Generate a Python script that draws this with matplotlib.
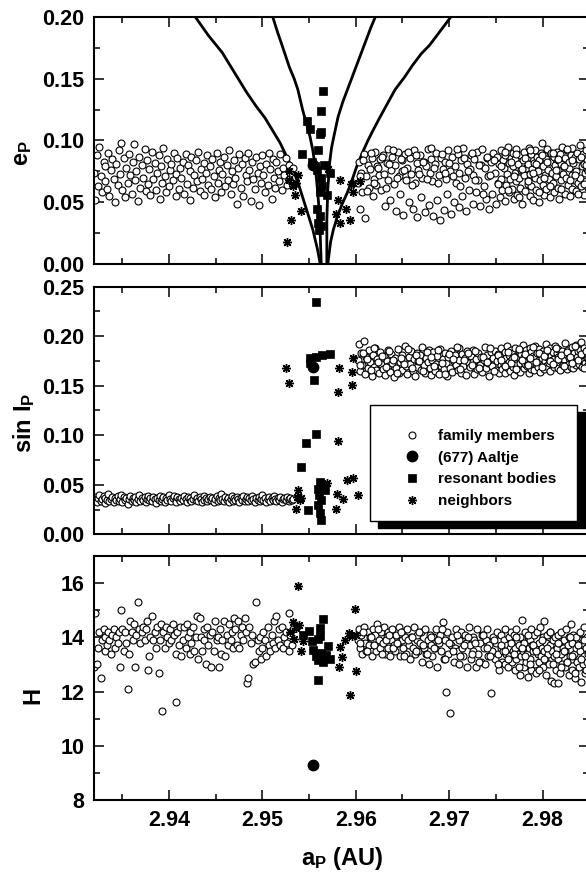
import numpy as np
import matplotlib
matplotlib.use("Agg")
import matplotlib.pyplot as plt
from matplotlib.ticker import MultipleLocator, FormatStrFormatter
from matplotlib.patches import Rectangle

plt.rcParams["font.family"] = ["Liberation Sans", "DejaVu Sans"]
plt.rcParams["font.weight"] = "bold"
plt.rcParams["axes.labelweight"] = "bold"
plt.rcParams["mathtext.fontset"] = "custom"
plt.rcParams["mathtext.rm"] = "Liberation Sans:bold"
plt.rcParams["mathtext.it"] = "Liberation Sans:bold"
plt.rcParams["mathtext.bf"] = "Liberation Sans:bold"
plt.rcParams["mathtext.default"] = "rm"

# ---- family members (same objects in all three panels) ----
fam_a_left = [
    2.9320, 2.9321, 2.9323, 2.9324, 2.9325, 2.9327, 2.9328, 2.9330, 2.9331, 2.9332,
    2.9334, 2.9335, 2.9336, 2.9338, 2.9339, 2.9341, 2.9342, 2.9343, 2.9345, 2.9346,
    2.9347, 2.9349, 2.9350, 2.9352, 2.9353, 2.9354, 2.9356, 2.9357, 2.9358, 2.9360,
    2.9361, 2.9363, 2.9364, 2.9365, 2.9367, 2.9368, 2.9369, 2.9371, 2.9372, 2.9374,
    2.9375, 2.9376, 2.9378, 2.9379, 2.9380, 2.9382, 2.9383, 2.9385, 2.9386, 2.9387,
    2.9389, 2.9390, 2.9391, 2.9393, 2.9394, 2.9396, 2.9397, 2.9398, 2.9400, 2.9401,
    2.9402, 2.9404, 2.9405, 2.9407, 2.9408, 2.9409, 2.9411, 2.9412, 2.9413, 2.9415,
    2.9416, 2.9418, 2.9419, 2.9420, 2.9422, 2.9423, 2.9424, 2.9426, 2.9427, 2.9429,
    2.9430, 2.9431, 2.9433, 2.9434, 2.9435, 2.9437, 2.9438, 2.9440, 2.9441, 2.9442,
    2.9444, 2.9445, 2.9446, 2.9448, 2.9449, 2.9451, 2.9452, 2.9453, 2.9455, 2.9456,
    2.9457, 2.9459, 2.9460, 2.9462, 2.9463, 2.9464, 2.9466, 2.9467, 2.9468, 2.9470,
    2.9471, 2.9473, 2.9474, 2.9475, 2.9477, 2.9478, 2.9479, 2.9481, 2.9482, 2.9484,
    2.9485, 2.9486, 2.9488, 2.9489, 2.9490, 2.9492, 2.9493, 2.9495, 2.9496, 2.9497,
    2.9499, 2.9500, 2.9501, 2.9503, 2.9504, 2.9506, 2.9507, 2.9508, 2.9510, 2.9511,
    2.9512, 2.9514, 2.9515, 2.9517, 2.9518, 2.9519, 2.9521, 2.9522, 2.9523, 2.9525,
    2.9526, 2.9528, 2.9529, 2.9530, 2.9532, 2.9533,
]
fam_e_left = [
    0.074, 0.052, 0.088, 0.063, 0.095, 0.071, 0.058, 0.083, 0.067, 0.079,
    0.061, 0.090, 0.055, 0.076, 0.085, 0.069, 0.050, 0.081, 0.064, 0.092,
    0.073, 0.098, 0.060, 0.086, 0.054, 0.078, 0.066, 0.089, 0.072, 0.057,
    0.083, 0.097, 0.068, 0.075, 0.051, 0.087, 0.062, 0.080, 0.070, 0.093,
    0.059, 0.084, 0.065, 0.077, 0.056, 0.091, 0.069, 0.082, 0.060, 0.074,
    0.088, 0.053, 0.079, 0.066, 0.094, 0.071, 0.058, 0.085, 0.063, 0.076,
    0.081, 0.068, 0.090, 0.055, 0.073, 0.086, 0.061, 0.078, 0.070, 0.083,
    0.057, 0.089, 0.065, 0.080, 0.052, 0.075, 0.087, 0.062, 0.072, 0.084,
    0.067, 0.091, 0.059, 0.077, 0.069, 0.056, 0.082, 0.074, 0.088, 0.064,
    0.079, 0.061, 0.085, 0.071, 0.054, 0.090, 0.066, 0.076, 0.083, 0.058,
    0.073, 0.087, 0.063, 0.080, 0.068, 0.092, 0.057, 0.075, 0.065, 0.084,
    0.070, 0.049, 0.078, 0.089, 0.062, 0.081, 0.055, 0.086, 0.072, 0.067,
    0.090, 0.076, 0.051, 0.083, 0.069, 0.061, 0.087, 0.074, 0.048, 0.079,
    0.066, 0.088, 0.072, 0.058, 0.081, 0.064, 0.090, 0.077, 0.053, 0.085,
    0.070, 0.062, 0.083, 0.075, 0.067, 0.089, 0.060, 0.078, 0.072, 0.086,
    0.064, 0.080, 0.069, 0.074, 0.066, 0.078,
]
fam_i_left = [
    0.035, 0.038, 0.033, 0.037, 0.040, 0.034, 0.036, 0.039, 0.032, 0.037,
    0.035, 0.041, 0.034, 0.036, 0.038, 0.033, 0.037, 0.035, 0.039, 0.034,
    0.036, 0.040, 0.033, 0.038, 0.035, 0.037, 0.031, 0.036, 0.039, 0.034,
    0.037, 0.035, 0.038, 0.033, 0.036, 0.040, 0.034, 0.037, 0.035, 0.038,
    0.033, 0.036, 0.039, 0.035, 0.037, 0.034, 0.038, 0.036, 0.032, 0.037,
    0.035, 0.039, 0.034, 0.036, 0.038, 0.033, 0.037, 0.035, 0.040, 0.036,
    0.034, 0.037, 0.039, 0.035, 0.033, 0.038, 0.036, 0.034, 0.037, 0.035,
    0.039, 0.036, 0.033, 0.038, 0.035, 0.037, 0.034, 0.036, 0.040, 0.035,
    0.037, 0.034, 0.038, 0.036, 0.033, 0.039, 0.035, 0.037, 0.034, 0.036,
    0.038, 0.035, 0.037, 0.033, 0.036, 0.039, 0.034, 0.037, 0.035, 0.041,
    0.036, 0.034, 0.038, 0.035, 0.037, 0.033, 0.036, 0.039, 0.034, 0.037,
    0.035, 0.038, 0.036, 0.033, 0.037, 0.035, 0.039, 0.034, 0.036, 0.038,
    0.034, 0.037, 0.035, 0.039, 0.036, 0.033, 0.037, 0.035, 0.038, 0.034,
    0.036, 0.040, 0.035, 0.037, 0.033, 0.036, 0.038, 0.034, 0.037, 0.035,
    0.039, 0.036, 0.034, 0.037, 0.035, 0.038, 0.033, 0.036, 0.037, 0.035,
    0.038, 0.034, 0.036, 0.037, 0.035, 0.036,
]
fam_h_left = [
    12.9, 14.9, 13.0, 13.6, 14.2, 12.5, 13.9, 14.3, 13.5, 14.0,
    13.7, 14.2, 13.9, 13.4, 14.1, 14.3, 13.6, 14.0, 13.8, 14.2,
    12.9, 15.0, 14.3, 13.5, 14.2, 13.8, 12.1, 13.4, 14.6, 14.2,
    13.9, 14.5, 12.9, 14.1, 15.3, 14.3, 13.8, 14.2, 14.4, 13.9,
    14.3, 14.6, 12.8, 13.3, 14.0, 14.8, 13.9, 14.2, 13.6, 14.4,
    12.7, 13.9, 14.5, 11.3, 14.2, 13.6, 14.4, 14.0, 13.8, 14.3,
    13.9, 14.5, 14.1, 11.6, 13.4, 14.2, 13.7, 14.4, 13.3, 13.9,
    14.4, 13.6, 14.5, 14.0, 13.4, 14.2, 13.8, 14.4, 13.5, 14.0,
    14.8, 13.2, 14.7, 14.0, 13.5, 13.9, 14.3, 13.0, 14.4, 13.7,
    14.1, 12.9, 14.2, 13.5, 14.6, 13.9, 14.0, 12.9, 14.3, 13.4,
    13.9, 14.6, 13.3, 14.1, 13.7, 14.5, 13.9, 14.2, 13.6, 14.7,
    14.3, 13.7, 14.6, 13.6, 14.1, 14.4, 13.9, 14.7, 14.2, 12.3,
    12.5, 14.4, 13.8, 14.1, 13.0, 13.1, 15.3, 13.9, 13.5, 14.0,
    13.2, 13.6, 14.2, 13.9, 13.3, 14.4, 13.7, 13.5, 14.1, 13.8,
    14.6, 13.6, 14.8, 13.9, 14.3, 13.7, 14.4, 13.6, 14.0, 14.2,
    13.8, 14.9, 13.5, 14.1, 13.7, 14.3,
]

fam_a_right = [
    2.9602, 2.9603, 2.9605, 2.9606, 2.9607, 2.9609, 2.9610, 2.9611, 2.9613, 2.9614,
    2.9615, 2.9617, 2.9618, 2.9619, 2.9621, 2.9622, 2.9623, 2.9625, 2.9626, 2.9627,
    2.9629, 2.9630, 2.9631, 2.9633, 2.9634, 2.9635, 2.9637, 2.9638, 2.9639, 2.9641,
    2.9642, 2.9643, 2.9645, 2.9646, 2.9647, 2.9649, 2.9650, 2.9651, 2.9653, 2.9654,
    2.9655, 2.9657, 2.9658, 2.9659, 2.9661, 2.9662, 2.9663, 2.9665, 2.9666, 2.9667,
    2.9669, 2.9670, 2.9671, 2.9673, 2.9674, 2.9675, 2.9677, 2.9678, 2.9679, 2.9681,
    2.9682, 2.9683, 2.9685, 2.9686, 2.9687, 2.9689, 2.9690, 2.9691, 2.9693, 2.9694,
    2.9695, 2.9697, 2.9698, 2.9699, 2.9701, 2.9702, 2.9703, 2.9705, 2.9706, 2.9707,
    2.9709, 2.9710, 2.9711, 2.9713, 2.9714, 2.9715, 2.9717, 2.9718, 2.9719, 2.9721,
    2.9722, 2.9723, 2.9725, 2.9726, 2.9727, 2.9729, 2.9730, 2.9731, 2.9733, 2.9734,
    2.9735, 2.9737, 2.9738, 2.9739, 2.9741, 2.9742, 2.9743, 2.9745, 2.9746, 2.9747,
    2.9749, 2.9750, 2.9751, 2.9752, 2.9753, 2.9754, 2.9755, 2.9756, 2.9757, 2.9758,
    2.9759, 2.9760, 2.9760, 2.9761, 2.9762, 2.9763, 2.9764, 2.9764, 2.9765, 2.9766,
    2.9767, 2.9768, 2.9768, 2.9769, 2.9770, 2.9771, 2.9772, 2.9772, 2.9773, 2.9774,
    2.9775, 2.9776, 2.9776, 2.9777, 2.9778, 2.9779, 2.9780, 2.9780, 2.9781, 2.9782,
    2.9783, 2.9784, 2.9784, 2.9785, 2.9786, 2.9787, 2.9788, 2.9788, 2.9789, 2.9790,
    2.9791, 2.9792, 2.9792, 2.9793, 2.9794, 2.9795, 2.9796, 2.9796, 2.9797, 2.9798,
    2.9799, 2.9800, 2.9800, 2.9801, 2.9802, 2.9803, 2.9804, 2.9804, 2.9805, 2.9806,
    2.9807, 2.9808, 2.9808, 2.9809, 2.9810, 2.9811, 2.9812, 2.9812, 2.9813, 2.9814,
    2.9815, 2.9816, 2.9816, 2.9817, 2.9818, 2.9819, 2.9820, 2.9820, 2.9821, 2.9822,
    2.9823, 2.9824, 2.9824, 2.9825, 2.9826, 2.9827, 2.9828, 2.9828, 2.9829, 2.9830,
    2.9831, 2.9832, 2.9832, 2.9833, 2.9834, 2.9835, 2.9836, 2.9836, 2.9837, 2.9838,
    2.9839, 2.9840, 2.9840, 2.9841, 2.9842, 2.9843, 2.9844, 2.9844, 2.9845, 2.9846,
    2.9847, 2.9848, 2.9848, 2.9849, 2.9850, 2.9851,
    2.9604, 2.9608, 2.9612, 2.9616, 2.9620, 2.9624, 2.9628, 2.9632, 2.9636, 2.9640,
    2.9644, 2.9648, 2.9652, 2.9656, 2.9660, 2.9664, 2.9668, 2.9672, 2.9676, 2.9680,
    2.9684, 2.9688, 2.9692, 2.9696, 2.9700, 2.9704, 2.9708, 2.9712, 2.9716, 2.9720,
    2.9724, 2.9728, 2.9732, 2.9736, 2.9740, 2.9744, 2.9748, 2.9752, 2.9756, 2.9760,
    2.9763, 2.9766, 2.9769, 2.9772, 2.9775, 2.9778, 2.9781, 2.9784, 2.9787, 2.9790,
    2.9793, 2.9796, 2.9799, 2.9802, 2.9805, 2.9808, 2.9811, 2.9814, 2.9817, 2.9820,
    2.9823, 2.9826, 2.9829, 2.9832, 2.9835, 2.9838, 2.9841, 2.9844, 2.9847, 2.9849,
]
fam_e_right = [
    0.066, 0.083, 0.045, 0.074, 0.058, 0.089, 0.037, 0.071, 0.080, 0.062,
    0.077, 0.086, 0.055, 0.069, 0.091, 0.064, 0.079, 0.072, 0.085, 0.060,
    0.088, 0.073, 0.047, 0.082, 0.068, 0.093, 0.052, 0.076, 0.087, 0.065,
    0.080, 0.043, 0.091, 0.071, 0.057, 0.084, 0.075, 0.040, 0.089, 0.068,
    0.078, 0.050, 0.086, 0.073, 0.045, 0.092, 0.066, 0.082, 0.038, 0.076,
    0.088, 0.054, 0.070, 0.083, 0.042, 0.079, 0.093, 0.048, 0.074, 0.085,
    0.067, 0.039, 0.081, 0.090, 0.052, 0.072, 0.036, 0.086, 0.077, 0.044,
    0.083, 0.069, 0.057, 0.092, 0.075, 0.041, 0.087, 0.050, 0.079, 0.066,
    0.089, 0.046, 0.074, 0.084, 0.055, 0.094, 0.070, 0.043, 0.081, 0.060,
    0.077, 0.088, 0.049, 0.072, 0.085, 0.058, 0.091, 0.068, 0.047, 0.080,
    0.093, 0.063, 0.078, 0.053, 0.086, 0.071, 0.045, 0.083, 0.057, 0.090,
    0.074, 0.049, 0.087, 0.066, 0.081, 0.054, 0.092, 0.069, 0.060, 0.084,
    0.078, 0.051, 0.088, 0.064, 0.073, 0.095, 0.058, 0.082, 0.069, 0.086,
    0.061, 0.079, 0.090, 0.053, 0.074, 0.085, 0.067, 0.093, 0.056, 0.081,
    0.070, 0.088, 0.062, 0.076, 0.049, 0.084, 0.072, 0.091, 0.059, 0.078,
    0.086, 0.065, 0.081, 0.094, 0.055, 0.073, 0.089, 0.063, 0.077, 0.052,
    0.082, 0.070, 0.092, 0.060, 0.087, 0.075, 0.050, 0.084, 0.068, 0.090,
    0.098, 0.064, 0.079, 0.056, 0.088, 0.072, 0.085, 0.061, 0.093, 0.076,
    0.069, 0.083, 0.054, 0.090, 0.074, 0.066, 0.087, 0.058, 0.080, 0.071,
    0.091, 0.062, 0.084, 0.076, 0.053, 0.089, 0.068, 0.081, 0.095, 0.073,
    0.079, 0.057, 0.086, 0.070, 0.092, 0.064, 0.078, 0.083, 0.055, 0.088,
    0.072, 0.094, 0.061, 0.082, 0.068, 0.087, 0.075, 0.059, 0.090, 0.066,
    0.085, 0.070, 0.096, 0.063, 0.079, 0.089, 0.056, 0.081, 0.074, 0.092,
    0.067, 0.084, 0.077, 0.062, 0.088, 0.073,
    0.071, 0.084, 0.059, 0.090, 0.066, 0.078, 0.087, 0.062, 0.081, 0.092,
    0.070, 0.085, 0.076, 0.091, 0.064, 0.088, 0.073, 0.083, 0.069, 0.094,
    0.078, 0.066, 0.089, 0.074, 0.082, 0.071, 0.093, 0.063, 0.086, 0.075,
    0.090, 0.068, 0.080, 0.057, 0.087, 0.072, 0.084, 0.065, 0.079, 0.091,
    0.060, 0.083, 0.071, 0.089, 0.054, 0.077, 0.086, 0.067, 0.092, 0.074,
    0.081, 0.058, 0.088, 0.070, 0.083, 0.063, 0.090, 0.076, 0.085, 0.061,
    0.079, 0.093, 0.068, 0.084, 0.072, 0.057, 0.087, 0.065, 0.080, 0.075,
]
fam_i_right = [
    0.176, 0.192, 0.165, 0.183, 0.171, 0.195, 0.162, 0.179, 0.168, 0.186,
    0.174, 0.160, 0.181, 0.169, 0.188, 0.166, 0.177, 0.163, 0.184, 0.172,
    0.167, 0.180, 0.161, 0.175, 0.186, 0.170, 0.164, 0.182, 0.173, 0.159,
    0.178, 0.168, 0.187, 0.163, 0.174, 0.181, 0.166, 0.176, 0.190, 0.170,
    0.162, 0.179, 0.172, 0.185, 0.165, 0.177, 0.160, 0.183, 0.169, 0.175,
    0.181, 0.166, 0.189, 0.171, 0.163, 0.178, 0.174, 0.186, 0.168, 0.161,
    0.176, 0.184, 0.165, 0.172, 0.180, 0.162, 0.187, 0.170, 0.177, 0.167,
    0.183, 0.173, 0.160, 0.179, 0.168, 0.185, 0.164, 0.175, 0.181, 0.171,
    0.166, 0.188, 0.176, 0.163, 0.182, 0.170, 0.178, 0.161, 0.185, 0.173,
    0.169, 0.180, 0.174, 0.186, 0.162, 0.177, 0.167, 0.183, 0.171, 0.179,
    0.164, 0.176, 0.189, 0.168, 0.181, 0.173, 0.160, 0.184, 0.170, 0.178,
    0.185, 0.166, 0.175, 0.182, 0.163, 0.179, 0.171, 0.188, 0.167, 0.176,
    0.172, 0.184, 0.163, 0.178, 0.190, 0.168, 0.181, 0.174, 0.165, 0.186,
    0.177, 0.169, 0.183, 0.161, 0.175, 0.188, 0.171, 0.180, 0.166, 0.179,
    0.185, 0.173, 0.164, 0.182, 0.176, 0.191, 0.168, 0.179, 0.172, 0.186,
    0.170, 0.181, 0.175, 0.163, 0.188, 0.177, 0.167, 0.184, 0.173, 0.180,
    0.166, 0.179, 0.190, 0.172, 0.183, 0.169, 0.176, 0.187, 0.164, 0.181,
    0.178, 0.171, 0.185, 0.167, 0.182, 0.175, 0.192, 0.170, 0.179, 0.186,
    0.173, 0.188, 0.165, 0.180, 0.176, 0.184, 0.169, 0.177, 0.190, 0.172,
    0.183, 0.168, 0.179, 0.187, 0.174, 0.166, 0.181, 0.175, 0.185, 0.171,
    0.177, 0.193, 0.170, 0.182, 0.167, 0.186, 0.178, 0.172, 0.184, 0.169,
    0.180, 0.174, 0.189, 0.168, 0.183, 0.176, 0.191, 0.171, 0.179, 0.185,
    0.172, 0.186, 0.177, 0.194, 0.169, 0.181, 0.175, 0.188, 0.173, 0.180,
    0.184, 0.170, 0.178, 0.187, 0.174, 0.182,
    0.171, 0.183, 0.177, 0.166, 0.188, 0.174, 0.180, 0.169, 0.185, 0.176,
    0.163, 0.178, 0.172, 0.187, 0.168, 0.181, 0.175, 0.165, 0.184, 0.179,
    0.170, 0.186, 0.173, 0.162, 0.182, 0.177, 0.189, 0.167, 0.176, 0.183,
    0.171, 0.185, 0.168, 0.179, 0.174, 0.188, 0.165, 0.181, 0.176, 0.170,
    0.184, 0.173, 0.179, 0.167, 0.187, 0.176, 0.182, 0.171, 0.178, 0.189,
    0.174, 0.183, 0.169, 0.180, 0.186, 0.175, 0.172, 0.188, 0.177, 0.181,
    0.170, 0.184, 0.179, 0.173, 0.190, 0.176, 0.182, 0.168, 0.185, 0.178,
]
fam_h_right = [
    13.9, 14.3, 13.6, 14.1, 13.4, 14.4, 13.8, 13.5, 14.2, 13.7,
    14.0, 13.3, 14.3, 13.7, 14.1, 13.5, 14.5, 13.9, 13.6, 14.2,
    13.8, 14.4, 13.4, 14.0, 13.6, 14.2, 13.3, 13.9, 14.3, 13.7,
    13.5, 14.1, 13.8, 14.4, 13.3, 13.9, 14.2, 13.6, 14.0, 13.4,
    14.3, 13.7, 13.2, 14.0, 13.6, 14.4, 13.4, 13.9, 14.1, 13.5,
    13.8, 14.2, 13.1, 13.6, 14.3, 13.4, 13.9, 13.0, 14.1, 13.7,
    13.3, 14.0, 13.6, 14.3, 12.9, 13.8, 14.1, 13.5, 14.55, 13.2,
    13.9, 12.0, 14.2, 13.4, 11.2, 13.7, 14.0, 13.1, 13.6, 14.3,
    13.5, 13.9, 13.0, 14.2, 13.6, 13.3, 14.1, 13.8, 12.9, 14.4,
    13.7, 13.2, 14.0, 13.5, 13.9, 12.9, 14.3, 13.4, 13.8, 13.1,
    14.1, 13.6, 13.0, 13.9, 14.3, 13.3, 13.7, 11.95, 13.5, 14.0,
    13.2, 13.8, 14.2, 13.4, 12.8, 13.9, 13.6, 14.1, 13.1, 13.5,
    13.9, 13.0, 14.3, 13.4, 13.7, 12.9, 14.0, 13.3, 13.6, 14.2,
    13.1, 13.8, 13.5, 14.1, 12.8, 13.6, 14.3, 13.2, 13.9, 13.4,
    13.7, 12.6, 14.0, 13.3, 14.65, 13.5, 12.9, 13.8, 14.2, 13.1,
    13.4, 14.0, 12.55, 13.6, 13.9, 13.2, 14.3, 12.8, 13.7, 13.5,
    14.1, 13.0, 13.6, 12.7, 14.2, 13.4, 13.8, 13.1, 14.4, 13.3,
    13.6, 14.0, 12.9, 13.5, 14.6, 13.2, 13.8, 12.6, 14.1, 13.4,
    13.0, 13.7, 14.2, 12.4, 13.5, 13.9, 12.3, 13.3, 14.0, 12.8,
    13.6, 12.3, 14.1, 13.2, 13.8, 12.7, 13.4, 14.2, 13.0, 13.6,
    13.9, 12.9, 13.5, 14.3, 13.1, 13.7, 12.6, 14.0, 13.3, 14.5,
    13.2, 13.8, 12.8, 14.1, 13.4, 12.5, 13.6, 14.0, 13.1, 13.7,
    12.9, 14.2, 13.5, 12.35, 13.8, 13.0, 14.4, 13.3, 12.7, 13.6,
    13.9, 13.1, 14.0, 12.8, 13.5, 13.2,
    13.8, 14.2, 13.5, 14.0, 13.7, 14.3, 13.4, 13.9, 14.1, 13.6,
    13.8, 14.2, 13.3, 13.9, 14.0, 13.5, 14.2, 13.7, 13.4, 14.0,
    13.6, 13.9, 14.3, 13.2, 13.8, 13.5, 14.1, 13.3, 13.7, 14.0,
    13.4, 13.8, 13.1, 14.1, 13.6, 13.3, 13.9, 13.0, 13.7, 13.5,
    13.2, 13.8, 13.4, 14.0, 12.9, 13.6, 13.3, 14.1, 13.0, 13.7,
    13.5, 12.8, 13.9, 13.2, 13.6, 14.2, 13.0, 13.4, 13.8, 12.9,
    13.5, 13.1, 14.0, 13.3, 12.7, 13.7, 13.2, 13.9, 12.8, 13.4,
]

# ---- (677) Aaltje ----
aaltje_a = 2.9554
aaltje_e = 0.080
aaltje_i = 0.1686
aaltje_h = 9.29

# ---- resonant bodies ----
res_e_a = [2.9565, 2.9563, 2.9548, 2.9551, 2.9563, 2.9562, 2.9542, 2.9560, 2.9553, 2.9556,
           2.9566, 2.9572, 2.9563, 2.9562, 2.9569, 2.9558, 2.9562, 2.9560, 2.9563, 2.9561,
           2.9558, 2.9564]
res_e = [0.140, 0.124, 0.116, 0.109, 0.107, 0.105, 0.089, 0.092, 0.083, 0.079,
         0.080, 0.074, 0.070, 0.058, 0.056, 0.045, 0.039, 0.033, 0.031, 0.028,
         0.076, 0.063]
res_i_a = [2.9557, 2.9551, 2.9557, 2.9564, 2.9572, 2.9551, 2.9555, 2.9557, 2.9547, 2.9541,
           2.9562, 2.9560, 2.9567, 2.9563, 2.9560, 2.9549, 2.9562, 2.9563, 2.9561, 2.9565]
res_i = [0.235, 0.178, 0.179, 0.181, 0.182, 0.173, 0.156, 0.101, 0.092, 0.068,
         0.053, 0.046, 0.045, 0.035, 0.030, 0.0245, 0.021, 0.0145, 0.040, 0.050]
res_h_a = [2.9565, 2.9562, 2.9550, 2.9544, 2.9562, 2.9553, 2.9570, 2.9554, 2.9563, 2.9560,
           2.9572, 2.9565, 2.9560, 2.9557, 2.9568, 2.9559]
res_h = [14.68, 14.34, 14.25, 14.10, 14.04, 13.85, 13.67, 13.55, 13.42, 13.18,
         13.20, 13.10, 12.43, 13.30, 13.35, 13.95]

# ---- neighbors ----
nb_e_a = [2.9526, 2.9531, 2.9541, 2.9535, 2.9529, 2.9538, 2.9533, 2.9570, 2.9583, 2.9581,
          2.9579, 2.9583, 2.9594, 2.9590, 2.9597, 2.9597, 2.9604, 2.9595, 2.9528, 2.9536]
nb_e = [0.018, 0.036, 0.043, 0.056, 0.075, 0.072, 0.063, 0.077, 0.068, 0.052,
        0.041, 0.033, 0.036, 0.045, 0.058, 0.066, 0.067, 0.065, 0.068, 0.066]
nb_i_a = [2.9525, 2.9529, 2.9582, 2.9581, 2.9597, 2.9596, 2.9596, 2.9581, 2.9538, 2.9540,
          2.9536, 2.9569, 2.9580, 2.9586, 2.9579, 2.9591, 2.9597, 2.9602, 2.9537, 2.9541]
nb_i = [0.168, 0.153, 0.168, 0.144, 0.178, 0.164, 0.151, 0.094, 0.045, 0.035,
        0.026, 0.052, 0.041, 0.036, 0.026, 0.055, 0.057, 0.040, 0.038, 0.037]
nb_h_a = [2.9538, 2.9599, 2.9533, 2.9536, 2.9530, 2.9541, 2.9543, 2.9583, 2.9585, 2.9582,
          2.9588, 2.9593, 2.9600, 2.9600, 2.9594, 2.9596, 2.9534, 2.9539]
nb_h = [15.91, 15.05, 14.58, 14.35, 14.20, 13.48, 13.85, 13.66, 13.29, 12.92,
        13.91, 14.15, 14.10, 12.77, 11.88, 14.05, 13.95, 14.45]

# ---- resonance borders in the (a, e) plane ----
outer_left_a = [2.9428, 2.9442, 2.9457, 2.9470, 2.9483, 2.9493, 2.9503, 2.9511, 2.9519,
                2.9526, 2.9533, 2.9539, 2.9544, 2.9549, 2.9554, 2.9559, 2.9562]
outer_left_e = [0.200, 0.185, 0.171, 0.155, 0.139, 0.128, 0.118, 0.108, 0.098,
                0.087, 0.076, 0.064, 0.052, 0.040, 0.028, 0.012, 0.000]
inner_left_a = [2.9511, 2.9516, 2.9521, 2.9525, 2.9529, 2.9534, 2.9538, 2.9543, 2.9547,
                2.9551, 2.9554, 2.9557, 2.9559, 2.9561, 2.9562, 2.9563]
inner_left_e = [0.200, 0.188, 0.177, 0.168, 0.159, 0.150, 0.141, 0.125, 0.114,
                0.103, 0.092, 0.076, 0.060, 0.042, 0.022, 0.000]
inner_right_a = [2.9621, 2.9616, 2.9611, 2.9606, 2.9601, 2.9596, 2.9591, 2.9586, 2.9581,
                 2.9577, 2.9574, 2.9572, 2.9570, 2.9569, 2.9569]
inner_right_e = [0.200, 0.191, 0.181, 0.171, 0.161, 0.151, 0.141, 0.131, 0.119,
                 0.105, 0.094, 0.082, 0.060, 0.036, 0.000]
outer_right_a = [2.9702, 2.9690, 2.9679, 2.9670, 2.9661, 2.9652, 2.9642, 2.9634, 2.9626,
                 2.9619, 2.9613, 2.9607, 2.9601, 2.9596, 2.9591, 2.9585, 2.9580, 2.9576,
                 2.9573, 2.9570]
outer_right_e = [0.200, 0.188, 0.177, 0.170, 0.161, 0.151, 0.141, 0.130, 0.119,
                 0.109, 0.100, 0.090, 0.079, 0.068, 0.058, 0.048, 0.038, 0.028,
                 0.018, 0.000]

fam_a = fam_a_left + fam_a_right
fam_e = fam_e_left + fam_e_right
fam_i = fam_i_left + fam_i_right
fam_h = fam_h_left + fam_h_right

fig = plt.figure(figsize=(5.86, 8.74), dpi=100)
left, width = 0.1609, 0.8447
ax1 = fig.add_axes([left, 0.6976, width, 0.2833])
ax2 = fig.add_axes([left, 0.3887, width, 0.2833])
ax3 = fig.add_axes([left, 0.0847, width, 0.2791])

fam_kw = dict(ls="none", marker="o", ms=5, mfc="white", mec="black", mew=0.8)
res_kw = dict(ls="none", marker="s", ms=5.2, mfc="black", mec="black", mew=0.5)
nb_kw = dict(ls="none", marker=(8, 2, 0), ms=6.5, mec="black", mew=1.0)
aal_kw = dict(ls="none", marker="o", ms=7.5, mfc="black", mec="black")


def style_axis(ax, ylim, major, minor, fmt, xlabels):
    ax.set_xlim(2.932, 2.985)
    ax.set_ylim(*ylim)
    ax.xaxis.set_major_locator(MultipleLocator(0.01))
    ax.xaxis.set_minor_locator(MultipleLocator(0.005))
    ax.xaxis.set_major_formatter(FormatStrFormatter("%.2f"))
    ax.yaxis.set_major_locator(MultipleLocator(major))
    ax.yaxis.set_minor_locator(MultipleLocator(minor))
    ax.yaxis.set_major_formatter(FormatStrFormatter(fmt))
    ax.tick_params(which="both", direction="in", top=True, right=True,
                   width=1.1, labelsize=15.5, pad=7)
    ax.tick_params(which="major", length=7)
    ax.tick_params(which="minor", length=4)
    if not xlabels:
        ax.tick_params(labelbottom=False)
    for s in ax.spines.values():
        s.set_linewidth(1.5)


# panel 1: eccentricity
for ca, ce in [(outer_left_a, outer_left_e), (inner_left_a, inner_left_e),
               (inner_right_a, inner_right_e), (outer_right_a, outer_right_e)]:
    ax1.plot(ca, ce, color="black", lw=2.0, solid_joinstyle="round")
ax1.plot(fam_a, fam_e, **fam_kw)
ax1.plot(nb_e_a, nb_e, **nb_kw)
ax1.plot(res_e_a, res_e, **res_kw)
ax1.plot([aaltje_a], [aaltje_e], **aal_kw)
style_axis(ax1, (0, 0.2), 0.05, 0.025, "%.2f", False)
ax1.set_ylabel(r"$e_P$", fontsize=17)
ax1.yaxis.set_label_coords(-0.122, 0.45)

# panel 2: inclination
ax2.plot(fam_a, fam_i, label="family members", **fam_kw)
ax2.plot([aaltje_a], [aaltje_i], label="(677) Aaltje", **aal_kw)
ax2.plot(res_i_a, res_i, label="resonant bodies", **res_kw)
ax2.plot(nb_i_a, nb_i, label="neighbors", **nb_kw)
style_axis(ax2, (0, 0.25), 0.05, 0.025, "%.2f", False)
ax2.set_ylabel(r"$\mathrm{sin\ I_P}$", fontsize=17)
ax2.yaxis.set_label_coords(-0.116, 0.45)

# legend box with a hard black shadow
ax2.add_patch(Rectangle((0.573, 0.025), 0.45, 0.467, transform=ax2.transAxes,
                        facecolor="black", edgecolor="black", zorder=4, clip_on=False))
ax2.add_patch(Rectangle((0.557, 0.055), 0.418, 0.467, transform=ax2.transAxes,
                        facecolor="white", edgecolor="black", lw=1.0, zorder=4.5, clip_on=False))
handles, labels = ax2.get_legend_handles_labels()
leg = ax2.legend(handles, labels, loc="upper left", bbox_to_anchor=(0.626, 0.425),
                 frameon=False, borderpad=0, borderaxespad=0, numpoints=1,
                 handlelength=1.0, handletextpad=1.2, labelspacing=0.5,
                 prop={"size": 11, "weight": "bold"})
leg.set_zorder(6)

# panel 3: absolute magnitude
ax3.plot(fam_a, fam_h, **fam_kw)
ax3.plot(nb_h_a, nb_h, **nb_kw)
ax3.plot(res_h_a, res_h, **res_kw)
ax3.plot([aaltje_a], [aaltje_h], **aal_kw)
style_axis(ax3, (8, 17), 2, 1, "%d", True)
ax3.set_ylabel("H", fontsize=17)
ax3.yaxis.set_label_coords(-0.10, 0.43)
ax3.set_xlabel(r"$a_P$ (AU)", fontsize=17, labelpad=10)

fig.savefig("out.png", dpi=100)
